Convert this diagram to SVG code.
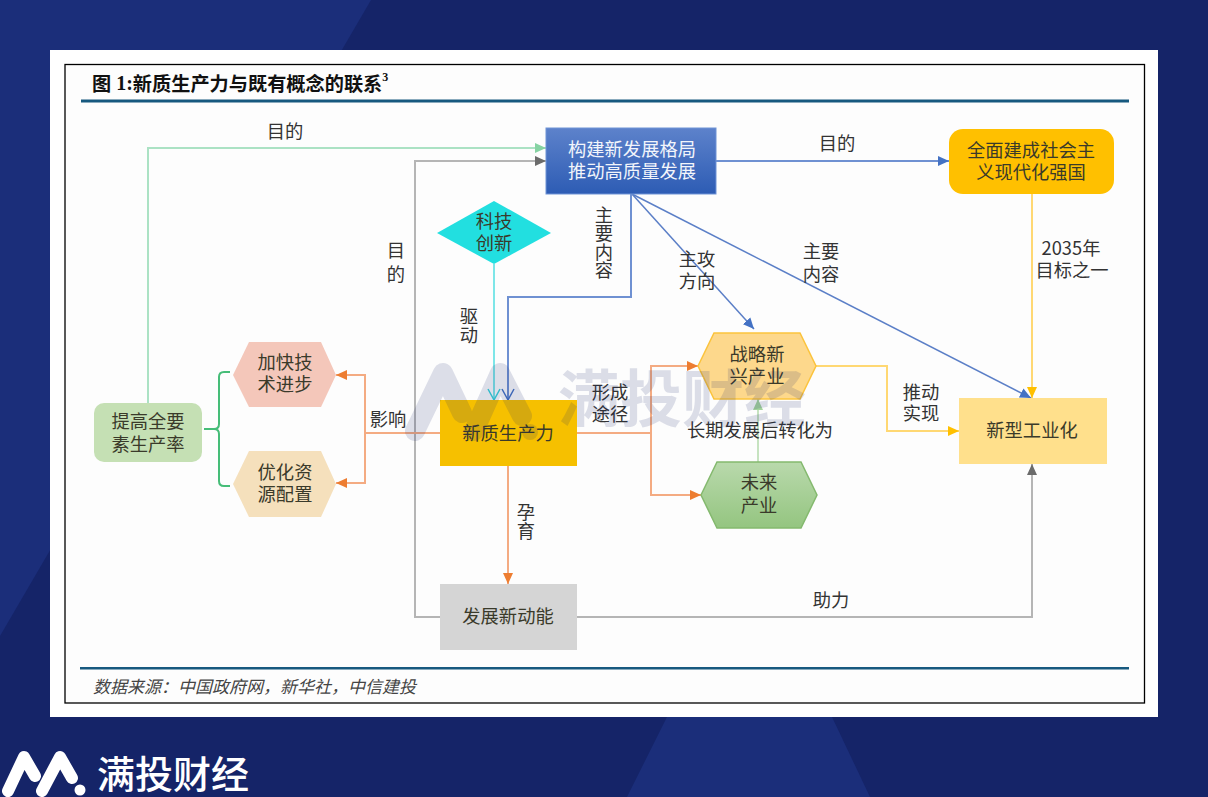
<svg xmlns="http://www.w3.org/2000/svg" width="1208" height="797" viewBox="0 0 1208 797">
<style>
text{font-family:"Noto Sans CJK SC","Noto Sans",sans-serif;font-size:18.300px;fill:#333;text-anchor:middle;dominant-baseline:central}
.d{fill:#3a3a2a}
.w{fill:#f2f5fb}
.c{fill:none;stroke-width:2}
.or{stroke:#f4ab82}
.bl{stroke:#6f91d2}
.bd{stroke:#5b7fc7;stroke-width:1.5}
.gr{stroke:#b5b5b5}
.ye{stroke:#ffd873}
</style>
<defs>
<linearGradient id="gb" x1="0" y1="0" x2="0" y2="1"><stop offset="0" stop-color="#5d82cb"/><stop offset="1" stop-color="#2d5cb4"/></linearGradient>
<linearGradient id="gg" x1="0" y1="0" x2="0" y2="1"><stop offset="0" stop-color="#b9d9ac"/><stop offset="1" stop-color="#94c580"/></linearGradient>
<marker id="aO" markerUnits="userSpaceOnUse" markerWidth="14" markerHeight="12" refX="11" refY="6" orient="auto"><path d="M0 1L11 6L0 11z" fill="#ed7d31"/></marker>
<marker id="aB" markerUnits="userSpaceOnUse" markerWidth="14" markerHeight="12" refX="11" refY="6" orient="auto"><path d="M0 1L11 6L0 11z" fill="#4472c4"/></marker>
<marker id="aY" markerUnits="userSpaceOnUse" markerWidth="14" markerHeight="12" refX="11" refY="6" orient="auto"><path d="M0 1L11 6L0 11z" fill="#ffc000"/></marker>
<marker id="aG" markerUnits="userSpaceOnUse" markerWidth="14" markerHeight="12" refX="11" refY="6" orient="auto"><path d="M0 1L11 6L0 11z" fill="#6b6b6b"/></marker>
<marker id="aL" markerUnits="userSpaceOnUse" markerWidth="14" markerHeight="12" refX="11" refY="6" orient="auto"><path d="M0 1L11 6L0 11z" fill="#86d3a3"/></marker>
<marker id="aM" markerUnits="userSpaceOnUse" markerWidth="14" markerHeight="12" refX="11" refY="6" orient="auto"><path d="M0 1L11 6L0 11z" fill="#a5d49d"/></marker>
<marker id="oC" markerUnits="userSpaceOnUse" markerWidth="14" markerHeight="16" refX="12" refY="8" orient="auto"><path d="M1 2L12 8L1 14" fill="none" stroke="#35d3da" stroke-width="1.500"/></marker>
<marker id="oB" markerUnits="userSpaceOnUse" markerWidth="14" markerHeight="16" refX="12" refY="8" orient="auto"><path d="M1 2L12 8L1 14" fill="none" stroke="#4472c4" stroke-width="1.500"/></marker>
</defs>
<g id="background">
<rect width="1208" height="797" fill="#152468"/>
<polygon points="0,0 371,0 0,636" fill="#1b2e7a"/>
<polygon points="667,717 832,717 870,797 627,797" fill="#1b2e7a"/>
<rect x="50" y="50" width="1108" height="667" fill="#fff"/>
<rect x="65" y="64.500" width="1079.500" height="638.500" fill="#fdfdfd" stroke="#000" stroke-width="1.300"/>
<rect x="81" y="99.500" width="1048" height="3" fill="#17597f"/>
<rect x="80" y="667" width="1049" height="2.500" fill="#17597f"/>
</g>
<g id="title">
<text x="92" y="83" style="text-anchor:start;font-size:19.200px;font-weight:700;fill:#111">图<tspan font-family="Liberation Serif" font-size="20"> 1:</tspan>新质生产力与既有概念的联系<tspan font-family="Liberation Serif" font-size="12" dy="-6">3</tspan></text>
<text x="93" y="685" style="text-anchor:start;font-size:17px;font-style:italic;fill:#444">数据来源&#xFF1A;中国政府网&#xFF0C;新华社&#xFF0C;中信建投</text>
</g>
<g id="connectors">
<path class="c" d="M148 403V148H546" stroke="#abe2c4" marker-end="url(#aL)"/>
<path class="c gr" d="M440 617H415V161H546" marker-end="url(#aG)"/>
<path class="c bl" d="M716 161H949" marker-end="url(#aB)"/>
<path class="c ye" d="M1032 194V398" marker-end="url(#aY)"/>
<path class="c" d="M494 264V400" stroke="#7de6e8" marker-end="url(#oC)"/>
<path class="c bl" d="M631 194V297H508V400" marker-end="url(#oB)"/>
<path class="c bd" d="M632 194L754 329" marker-end="url(#aB)"/>
<path class="c bd" d="M632 194L1031 398" marker-end="url(#aB)"/>
<path class="c or" d="M440 433H365V375H336" marker-end="url(#aO)"/>
<path class="c or" d="M365 433V483H336" marker-end="url(#aO)"/>
<path class="c or" d="M577 433H651V366H698" marker-end="url(#aO)"/>
<path class="c or" d="M651 433V495H701" marker-end="url(#aO)"/>
<path class="c or" d="M508 466V584" marker-end="url(#aO)"/>
<path class="c ye" d="M816 366H887V431H959" marker-end="url(#aY)"/>
<path class="c" d="M758 462V399" stroke="#c6e3c0" marker-end="url(#aM)"/>
<path class="c gr" d="M577 617H1032V464" marker-end="url(#aG)"/>
<path d="M230 372H224Q219 372 219 377V424Q219 429 214 429H204H214Q219 429 219 434V481Q219 486 224 486H230" fill="none" stroke="#46bd78" stroke-width="2"/>
</g>
<g id="node-goal-main"><rect x="546" y="128" width="170" height="66" fill="url(#gb)" stroke="#6f93d6"/><text class="w" x="632" y="148">构建新发展格局</text><text class="w" x="632" y="170">推动高质量发展</text></g>
<g id="node-goal-2035"><rect x="949" y="129" width="165" height="65" rx="14" fill="#ffc000"/><text class="d" x="1031" y="149">全面建成社会主</text><text class="d" x="1031" y="171">义现代化强国</text></g>
<g id="node-innovation"><polygon points="437,233 494,201 551,233 494,264" fill="#22dfe0"/><text class="d" x="494" y="220">科技</text><text class="d" x="494" y="242">创新</text></g>
<g id="node-tfp"><rect x="94" y="403" width="108" height="59" rx="10" fill="#c5e0b4"/><text class="d" x="148" y="420">提高全要</text><text class="d" x="148" y="443">素生产率</text></g>
<g id="node-tech"><polygon points="233,375 249,342 321,342 336,375 321,407 249,407" fill="#f4c7ba"/><text class="d" x="285" y="361">加快技</text><text class="d" x="285" y="383">术进步</text></g>
<g id="node-alloc"><polygon points="233,484 249,451 321,451 336,484 321,517 249,517" fill="#f5e0bc"/><text class="d" x="285" y="471">优化资</text><text class="d" x="285" y="493">源配置</text></g>
<g id="node-npf"><rect x="440" y="400" width="137" height="66" fill="#f6c000"/><text class="d" x="508" y="432">新质生产力</text></g>
<g id="node-strategic"><polygon points="698,366 714,333 800,333 816,366 800,399 714,399" fill="#fdd88c" stroke="#fbc33c" stroke-width="1.500"/><text class="d" x="757" y="353">战略新</text><text class="d" x="757" y="375">兴产业</text></g>
<g id="node-future"><polygon points="701,495 717,462 801,462 817,495 801,528 717,528" fill="url(#gg)" stroke="#84b96e" stroke-width="1.500"/><text class="d" x="759" y="481">未来</text><text class="d" x="759" y="504">产业</text></g>
<g id="node-industrial"><rect x="959" y="398" width="148" height="66" fill="#ffe08c"/><text class="d" x="1032" y="429">新型工业化</text></g>
<g id="node-momentum"><rect x="440" y="584" width="137" height="66" fill="#d5d5d5"/><text class="d" x="508" y="615">发展新动能</text></g>
<g id="labels">
<text x="285" y="130">目的</text>
<text x="837" y="142">目的</text>
<text x="396" y="249">目</text><text x="396" y="273">的</text>
<text x="604" y="214">主</text><text x="604" y="232">要</text><text x="604" y="251">内</text><text x="604" y="269">容</text>
<text x="697" y="258">主攻</text><text x="697" y="280">方向</text>
<text x="821" y="250">主要</text><text x="821" y="273">内容</text>
<text x="1071" y="247">2035年</text><text x="1072" y="269">目标之一</text>
<text x="469" y="315">驱</text><text x="469" y="334">动</text>
<text x="610" y="391">形成</text><text x="610" y="413">途径</text>
<text x="388" y="418">影响</text>
<text x="921" y="391">推动</text><text x="921" y="412">实现</text>
<text x="760" y="429">长期发展后转化为</text>
<text x="526" y="511">孕</text><text x="526" y="530">育</text>
<text x="831" y="599">助力</text>
</g>
<g id="watermark" opacity="0.14">
<path d="M415 431L443 373L462 413M474 431L500 373L522 416" fill="none" stroke="#15246a" stroke-width="20" stroke-linecap="round" stroke-linejoin="round"/>
<circle cx="530" cy="432" r="8" fill="#15246a"/>
<text x="558" y="395" style="text-anchor:start;font-size:62px;font-weight:700;fill:#15246a">满投财经</text>
</g>
<g id="logo">
<path d="M8 791L24 757L35 776M42 791L60 757L72 778" fill="none" stroke="#fff" stroke-width="12" stroke-linecap="round" stroke-linejoin="round"/>
<circle cx="80" cy="790" r="5.500" fill="#fff"/>
<text x="97" y="771" style="text-anchor:start;font-size:38px;font-weight:500;fill:#fff">满投财经</text>
</g>
</svg>
